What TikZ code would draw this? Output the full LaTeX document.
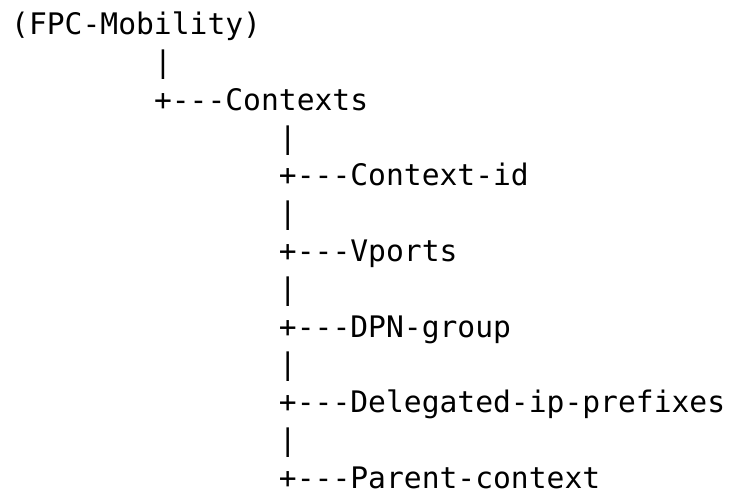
\documentclass[tikz,border=0pt]{standalone}
\usepackage{fontspec}
\setmonofont{DejaVu Sans Mono}
\tikzset{asc/.style={anchor=base west,inner sep=0pt,font=\ttfamily\fontsize{29.65bp}{36bp}\selectfont}}

\begin{document}
\begin{tikzpicture}[x=1bp,y=-1bp]
\useasboundingbox (0,0) rectangle (731,491);
\node[asc] (root) at (11,35) {(FPC-Mobility)};
\node[asc] (bar0) at (153.8,72.75) {|};
\node[asc] (ctx) at (153.8,110.5) {+---Contexts};
\node[asc] (bar1) at (278.75,148.25) {|};
\node[asc] (cid) at (278.75,186) {+---Context-id};
\node[asc] (bar2) at (278.75,223.75) {|};
\node[asc] (vp) at (278.75,261.5) {+---Vports};
\node[asc] (bar3) at (278.75,299.25) {|};
\node[asc] (dpn) at (278.75,337) {+---DPN-group};
\node[asc] (bar4) at (278.75,374.75) {|};
\node[asc] (dip) at (278.75,412.5) {+---Delegated-ip-prefixes};
\node[asc] (bar5) at (278.75,450.25) {|};
\node[asc] (par) at (278.75,488) {+---Parent-context};
\end{tikzpicture}
\end{document}
